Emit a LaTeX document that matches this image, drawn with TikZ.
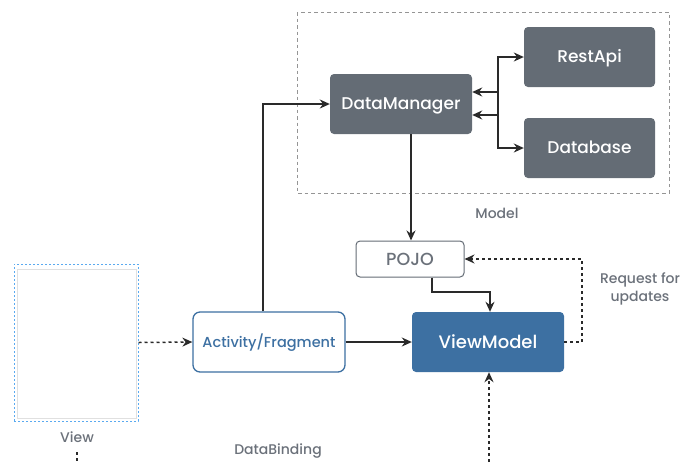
\documentclass[tikz,border=0pt]{standalone}
\usepackage{fontspec}
\setmainfont{Poppins}[UprightFont=* Medium]
\usetikzlibrary{arrows.meta}
\definecolor{boxgray}{HTML}{646C75}
\definecolor{vmblue}{HTML}{3D70A2}
\definecolor{txtgray}{HTML}{6B717A}
\definecolor{linegray}{HTML}{2A2A2A}
\definecolor{dashgray}{HTML}{959595}
\definecolor{viewblue}{HTML}{5AAAF0}
\tikzset{
  darkbox/.style={draw=none, fill=boxgray, rounded corners=4pt, text=white, font=\fontsize{17}{20}\selectfont, inner sep=0pt, text height=11.9pt, text depth=0pt},
  conn/.style={draw=linegray, line width=1.5pt, -{Stealth[length=10pt,width=9pt]}},
  biconn/.style={draw=linegray, line width=1.5pt, {Stealth[length=10pt,width=9pt]}-{Stealth[length=10pt,width=9pt]}},
  dconn/.style={conn, dash pattern=on 3pt off 3pt},
  lbl/.style={text=txtgray, font=\fontsize{14}{18}\selectfont, align=center},
}
\begin{document}
\begin{tikzpicture}[x=1pt,y=-1pt]
\useasboundingbox (0,0) rectangle (684,464);
% model group frame
\draw[dashgray, line width=1pt, dash pattern=on 3.5pt off 3pt] (297,12) rectangle (669,193);
\node[lbl] (modellbl) at (497,213) {Model};
% model boxes
\node[darkbox, minimum width=142pt, minimum height=60pt] (dm) at (401,104) {DataManager};
\node[darkbox, minimum width=131pt, minimum height=60pt] (rest) at (589.5,57) {RestApi};
\node[darkbox, minimum width=131pt, minimum height=60pt] (db) at (589.5,148) {Database};
% POJO
\node[draw=boxgray, line width=1pt, rounded corners=4pt, fill=white, text=txtgray, text height=12.2pt, text depth=0pt,
      font=\fontsize{17.5}{20}\selectfont, minimum width=108pt, minimum height=36pt, inner sep=0pt] (pojo) at (410,259) {POJO};
% ViewModel
\node[fill=vmblue, rounded corners=4pt, text=white, font=\fontsize{18}{21}\selectfont, text height=12.6pt, text depth=0pt,
      minimum width=152pt, minimum height=60pt, inner sep=0pt] (vm) at (488,342) {ViewModel};
% Activity/Fragment
\node[draw=vmblue, line width=1.3pt, rounded corners=7pt, fill=white, text=vmblue, text height=10.1pt, text depth=0pt,
      font=\fontsize{14.5}{17}\selectfont, minimum width=152pt, minimum height=60pt, inner sep=0pt] (act) at (269,342) {Activity/Fragment};
% View placeholder
\node[draw=viewblue, line width=1pt, dash pattern=on 2pt off 2pt, minimum width=124pt, minimum height=157pt, inner sep=0pt] (view) at (76,342.5) {};
\draw[black!12, line width=0.8pt] (17,269) rectangle (136,418);
\node[lbl] (viewlbl) at (77,437) {View};
\node[lbl] (dblbl) at (278,451) {DataBinding};
\node[lbl] (reqlbl) at (640,289) {Request for\\updates};
% helper points for open-ended connectors
\coordinate (vmsrc) at (489,462);
\coordinate (viewtail1) at (77,452);
\coordinate (viewtail2) at (77,463);
% connectors
\draw[biconn] ([yshift=-11pt]dm.east) -| (498,57) -- (rest.west);
\draw[biconn] ([yshift=12pt]dm.east) -| (498,148) -- (db.west);
\draw[conn] (dm.south -| 411,0) -- (pojo.north -| 411,0);
\draw[conn] (pojo.south -| 432,0) |- (490,292) -- (vm.north -| 490,0);
\draw[dconn] (vm.east) -| (582,259) -- (pojo.east);
\draw[dconn] (vmsrc) -- (vm.south -| vmsrc);
\draw[conn] (act.north -| 263,0) |- (dm.west);
\draw[conn] (act.east) -- (vm.west);
\draw[dconn] (view.east) -- (act.west);
\draw[linegray, line width=1.5pt, dash pattern=on 3pt off 3pt] (viewtail1) -- (viewtail2);
\end{tikzpicture}
\end{document}
